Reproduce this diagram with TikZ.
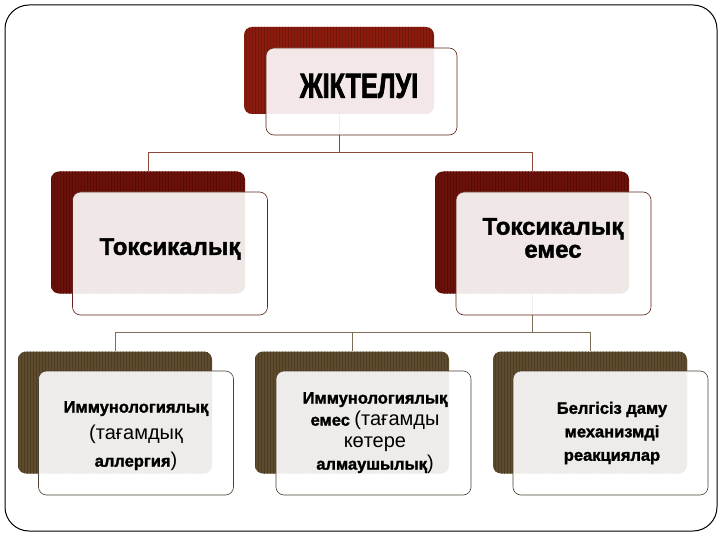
\documentclass[tikz,border=0pt]{standalone}
\usepackage{fontspec}
\setmainfont{Liberation Sans}[BoldFeatures={FakeBold=1.6}]
\newfontfamily\narrowfont{Liberation Sans}[FakeStretch=0.72, BoldFeatures={FakeBold=1.8}]
\usetikzlibrary{patterns}

\definecolor{topred}{RGB}{140,27,13}
\definecolor{midred}{RGB}{108,16,10}
\definecolor{lowbrown}{RGB}{94,74,45}
\definecolor{redline}{RGB}{140,72,58}
\definecolor{brownline}{RGB}{125,110,90}
\definecolor{rededge}{RGB}{95,35,25}
\definecolor{brownedge}{RGB}{75,65,50}

\tikzset{
  backbox/.style={fill=#1, postaction={pattern=vertical lines, pattern color=#1!82!black},
    rounded corners=8pt, inner sep=0pt, minimum width=194pt, minimum height=122pt},
  frontbox/.style={draw=#1, line width=0.6pt, fill=white, fill opacity=0.9,
    rounded corners=8pt, inner sep=0pt, minimum width=195pt, minimum height=123pt},
  conn/.style={draw=#1, line width=0.7pt},
  bigtext/.style={font=\bfseries\fontsize{24}{23}\selectfont, align=center},
  smalltext/.style={font=\bfseries\fontsize{16.5}{#1}\selectfont, align=center}
}

\begin{document}
\begin{tikzpicture}[x=1pt,y=-1pt]
\useasboundingbox (0,0) rectangle (720,540);
\draw[line width=1pt, rounded corners=24pt] (5,5) rectangle (717,531);

% dark boxes
\node[backbox=topred, minimum width=190pt, minimum height=87pt] (topbg) at (339,70.5) {};
\node[backbox=midred] (toxbg) at (148,232.5) {};
\node[backbox=midred] (nontoxbg) at (532,232.5) {};
\node[backbox=lowbrown] (immbg) at (115,412.5) {};
\node[backbox=lowbrown] (nonimmbg) at (352,412.5) {};
\node[backbox=lowbrown] (unkbg) at (590,412.5) {};

% connectors
\coordinate (split1) at (339,152);
\coordinate (split2) at (532,332);
\draw[conn=redline] (topbg) -- (split1) -| (toxbg);
\draw[conn=redline] (split1) -| (nontoxbg);
\draw[conn=brownline] (nontoxbg) -- (split2) -| (immbg);
\draw[conn=brownline] (split2) -| (nonimmbg);
\draw[conn=brownline] (split2) -| (unkbg);

% light boxes
\node[frontbox=rededge, minimum width=191pt, minimum height=87pt] (top) at (361.5,91.5) {};
\node[frontbox=rededge] (tox) at (170,253.5) {};
\node[frontbox=rededge] (nontox) at (553.5,253.5) {};
\node[frontbox=brownedge, minimum height=124pt] (imm) at (136,433) {};
\node[frontbox=brownedge, minimum height=124pt] (nonimm) at (373.5,433) {};
\node[frontbox=brownedge, minimum height=124pt] (unk) at (610.5,433) {};

% texts
\node[font=\narrowfont\bfseries\fontsize{35}{40}\selectfont] (toptext) at (359,86) {ЖІКТЕЛУІ};
\node[bigtext] (toxtext) at (170,249) {Токсикалық};
\node[bigtext] (nontoxtext) at (553,238) {Токсикалық\\емес};
\node[smalltext=27] (immtext) at (136,436)
  {Иммунологиялық\\{\mdseries\fontsize{20}{27}\selectfont (тағамдық}\\аллергия{\mdseries\fontsize{20}{27}\selectfont )}};
\node[smalltext=22] (nonimmtext) at (375,433)
  {Иммунологиялық\\емес {\mdseries\fontsize{20}{22}\selectfont (тағамды}\\{\mdseries\fontsize{20}{22}\selectfont көтере}\\алмаушылық{\mdseries\fontsize{20}{22}\selectfont )}};
\node[smalltext=23.5] (unktext) at (612,433) {Белгісіз даму\\механизмді\\реакциялар};
\end{tikzpicture}
\end{document}
